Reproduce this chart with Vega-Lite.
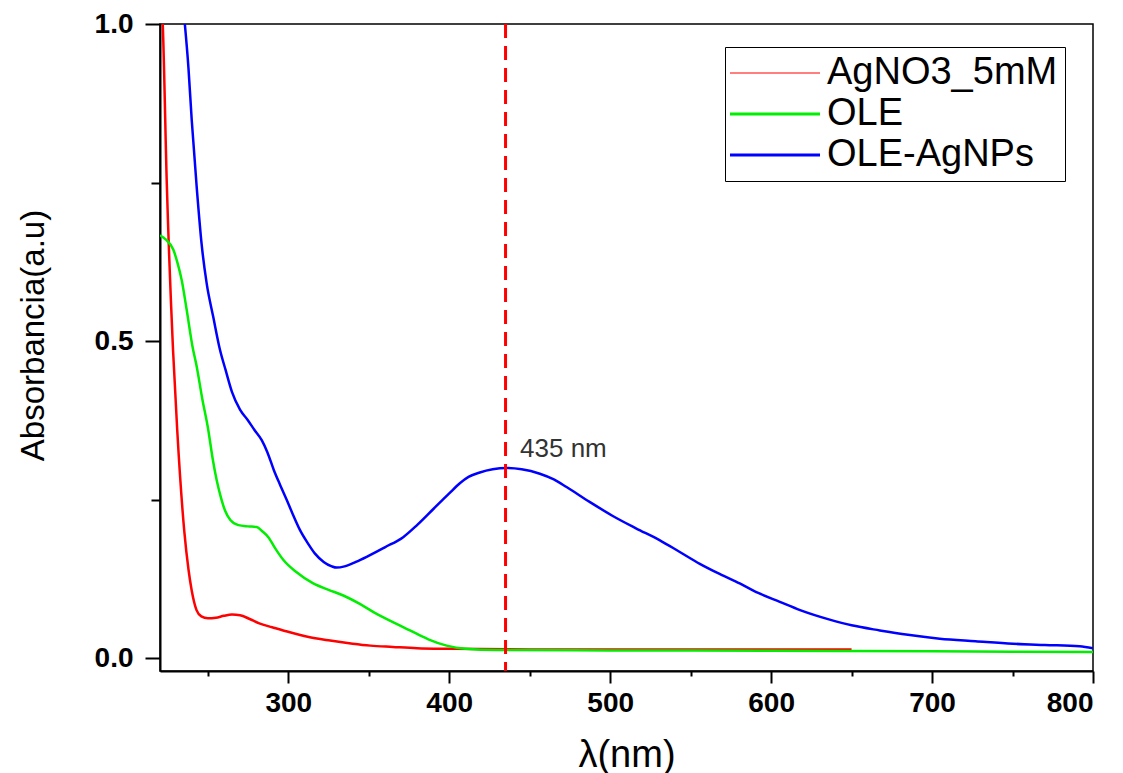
{
  "$schema": "https://vega.github.io/schema/vega-lite/v6.json",
  "width": 933,
  "height": 647,
  "autosize": {"type": "none"},
  "padding": {"left": 160, "top": 24, "right": 30, "bottom": 102},
  "background": "white",
  "config": {
    "view": {"stroke": "black", "strokeWidth": 1.5},
    "font": "Liberation Sans"
  },
  "datasets": {
    "spectra": [
      {"series": "AgNO3_5mM", "nm": 220.3, "abs": 1.06},
      {"series": "AgNO3_5mM", "nm": 222, "abs": 1.0},
      {"series": "AgNO3_5mM", "nm": 224.5, "abs": 0.75},
      {"series": "AgNO3_5mM", "nm": 228.4, "abs": 0.486},
      {"series": "AgNO3_5mM", "nm": 231, "abs": 0.36},
      {"series": "AgNO3_5mM", "nm": 235.4, "abs": 0.2},
      {"series": "AgNO3_5mM", "nm": 238, "abs": 0.14},
      {"series": "AgNO3_5mM", "nm": 240, "abs": 0.107},
      {"series": "AgNO3_5mM", "nm": 243, "abs": 0.076},
      {"series": "AgNO3_5mM", "nm": 246, "abs": 0.066},
      {"series": "AgNO3_5mM", "nm": 250, "abs": 0.063},
      {"series": "AgNO3_5mM", "nm": 255, "abs": 0.064},
      {"series": "AgNO3_5mM", "nm": 260, "abs": 0.067},
      {"series": "AgNO3_5mM", "nm": 265, "abs": 0.069},
      {"series": "AgNO3_5mM", "nm": 270, "abs": 0.068},
      {"series": "AgNO3_5mM", "nm": 276, "abs": 0.062},
      {"series": "AgNO3_5mM", "nm": 282, "abs": 0.055},
      {"series": "AgNO3_5mM", "nm": 290, "abs": 0.049},
      {"series": "AgNO3_5mM", "nm": 301, "abs": 0.041},
      {"series": "AgNO3_5mM", "nm": 312, "abs": 0.034},
      {"series": "AgNO3_5mM", "nm": 326, "abs": 0.028},
      {"series": "AgNO3_5mM", "nm": 340, "abs": 0.023},
      {"series": "AgNO3_5mM", "nm": 351, "abs": 0.02},
      {"series": "AgNO3_5mM", "nm": 365, "abs": 0.018},
      {"series": "AgNO3_5mM", "nm": 380, "abs": 0.016},
      {"series": "AgNO3_5mM", "nm": 400, "abs": 0.015},
      {"series": "AgNO3_5mM", "nm": 450, "abs": 0.014},
      {"series": "AgNO3_5mM", "nm": 500, "abs": 0.014},
      {"series": "AgNO3_5mM", "nm": 550, "abs": 0.014},
      {"series": "AgNO3_5mM", "nm": 600, "abs": 0.0137},
      {"series": "AgNO3_5mM", "nm": 650, "abs": 0.0137},
      {"series": "OLE", "nm": 220.3, "abs": 0.667},
      {"series": "OLE", "nm": 224, "abs": 0.66},
      {"series": "OLE", "nm": 228.6, "abs": 0.644},
      {"series": "OLE", "nm": 231, "abs": 0.625},
      {"series": "OLE", "nm": 233.8, "abs": 0.596},
      {"series": "OLE", "nm": 236.9, "abs": 0.549},
      {"series": "OLE", "nm": 240.6, "abs": 0.49},
      {"series": "OLE", "nm": 243.1, "abs": 0.46},
      {"series": "OLE", "nm": 246.5, "abs": 0.41},
      {"series": "OLE", "nm": 250.3, "abs": 0.36},
      {"series": "OLE", "nm": 253, "abs": 0.315},
      {"series": "OLE", "nm": 255.5, "abs": 0.281},
      {"series": "OLE", "nm": 258, "abs": 0.255},
      {"series": "OLE", "nm": 260.7, "abs": 0.233},
      {"series": "OLE", "nm": 264, "abs": 0.218},
      {"series": "OLE", "nm": 269, "abs": 0.21},
      {"series": "OLE", "nm": 275, "abs": 0.208},
      {"series": "OLE", "nm": 280.4, "abs": 0.207},
      {"series": "OLE", "nm": 284, "abs": 0.2},
      {"series": "OLE", "nm": 287.6, "abs": 0.191},
      {"series": "OLE", "nm": 292, "abs": 0.173},
      {"series": "OLE", "nm": 297, "abs": 0.155},
      {"series": "OLE", "nm": 305, "abs": 0.136},
      {"series": "OLE", "nm": 315.5, "abs": 0.118},
      {"series": "OLE", "nm": 325, "abs": 0.108},
      {"series": "OLE", "nm": 334.2, "abs": 0.099},
      {"series": "OLE", "nm": 345, "abs": 0.085},
      {"series": "OLE", "nm": 354.9, "abs": 0.07},
      {"series": "OLE", "nm": 365, "abs": 0.057},
      {"series": "OLE", "nm": 375.6, "abs": 0.044},
      {"series": "OLE", "nm": 387, "abs": 0.03},
      {"series": "OLE", "nm": 398.4, "abs": 0.02},
      {"series": "OLE", "nm": 410, "abs": 0.015},
      {"series": "OLE", "nm": 430, "abs": 0.013},
      {"series": "OLE", "nm": 500, "abs": 0.0125},
      {"series": "OLE", "nm": 600, "abs": 0.012},
      {"series": "OLE", "nm": 700, "abs": 0.011},
      {"series": "OLE", "nm": 800, "abs": 0.01},
      {"series": "OLE-AgNPs", "nm": 235, "abs": 1.02},
      {"series": "OLE-AgNPs", "nm": 238, "abs": 0.93},
      {"series": "OLE-AgNPs", "nm": 240, "abs": 0.849},
      {"series": "OLE-AgNPs", "nm": 243.1, "abs": 0.743},
      {"series": "OLE-AgNPs", "nm": 246.2, "abs": 0.652},
      {"series": "OLE-AgNPs", "nm": 249.3, "abs": 0.591},
      {"series": "OLE-AgNPs", "nm": 253.4, "abs": 0.538},
      {"series": "OLE-AgNPs", "nm": 257.6, "abs": 0.486},
      {"series": "OLE-AgNPs", "nm": 261, "abs": 0.455},
      {"series": "OLE-AgNPs", "nm": 265, "abs": 0.42},
      {"series": "OLE-AgNPs", "nm": 270, "abs": 0.392},
      {"series": "OLE-AgNPs", "nm": 275, "abs": 0.375},
      {"series": "OLE-AgNPs", "nm": 279, "abs": 0.36},
      {"series": "OLE-AgNPs", "nm": 283.5, "abs": 0.344},
      {"series": "OLE-AgNPs", "nm": 287, "abs": 0.325},
      {"series": "OLE-AgNPs", "nm": 291, "abs": 0.297},
      {"series": "OLE-AgNPs", "nm": 295, "abs": 0.273},
      {"series": "OLE-AgNPs", "nm": 299, "abs": 0.25},
      {"series": "OLE-AgNPs", "nm": 303, "abs": 0.226},
      {"series": "OLE-AgNPs", "nm": 307.3, "abs": 0.202},
      {"series": "OLE-AgNPs", "nm": 312, "abs": 0.182},
      {"series": "OLE-AgNPs", "nm": 316.6, "abs": 0.165},
      {"series": "OLE-AgNPs", "nm": 322, "abs": 0.152},
      {"series": "OLE-AgNPs", "nm": 327, "abs": 0.145},
      {"series": "OLE-AgNPs", "nm": 330, "abs": 0.143},
      {"series": "OLE-AgNPs", "nm": 335, "abs": 0.145},
      {"series": "OLE-AgNPs", "nm": 342, "abs": 0.152},
      {"series": "OLE-AgNPs", "nm": 348.7, "abs": 0.16},
      {"series": "OLE-AgNPs", "nm": 360, "abs": 0.175},
      {"series": "OLE-AgNPs", "nm": 371.4, "abs": 0.191},
      {"series": "OLE-AgNPs", "nm": 380, "abs": 0.21},
      {"series": "OLE-AgNPs", "nm": 390, "abs": 0.235},
      {"series": "OLE-AgNPs", "nm": 400, "abs": 0.26},
      {"series": "OLE-AgNPs", "nm": 406.6, "abs": 0.276},
      {"series": "OLE-AgNPs", "nm": 412, "abs": 0.286},
      {"series": "OLE-AgNPs", "nm": 419, "abs": 0.293},
      {"series": "OLE-AgNPs", "nm": 427, "abs": 0.298},
      {"series": "OLE-AgNPs", "nm": 435.6, "abs": 0.3},
      {"series": "OLE-AgNPs", "nm": 445, "abs": 0.298},
      {"series": "OLE-AgNPs", "nm": 456.3, "abs": 0.291},
      {"series": "OLE-AgNPs", "nm": 465, "abs": 0.282},
      {"series": "OLE-AgNPs", "nm": 472.9, "abs": 0.27},
      {"series": "OLE-AgNPs", "nm": 487, "abs": 0.247},
      {"series": "OLE-AgNPs", "nm": 501.9, "abs": 0.224},
      {"series": "OLE-AgNPs", "nm": 516, "abs": 0.205},
      {"series": "OLE-AgNPs", "nm": 530.9, "abs": 0.186},
      {"series": "OLE-AgNPs", "nm": 543, "abs": 0.168},
      {"series": "OLE-AgNPs", "nm": 555.7, "abs": 0.149},
      {"series": "OLE-AgNPs", "nm": 568, "abs": 0.133},
      {"series": "OLE-AgNPs", "nm": 580.5, "abs": 0.118},
      {"series": "OLE-AgNPs", "nm": 592, "abs": 0.103},
      {"series": "OLE-AgNPs", "nm": 605.4, "abs": 0.089},
      {"series": "OLE-AgNPs", "nm": 618, "abs": 0.076},
      {"series": "OLE-AgNPs", "nm": 636.4, "abs": 0.061},
      {"series": "OLE-AgNPs", "nm": 650, "abs": 0.052},
      {"series": "OLE-AgNPs", "nm": 667.5, "abs": 0.044},
      {"series": "OLE-AgNPs", "nm": 685, "abs": 0.037},
      {"series": "OLE-AgNPs", "nm": 704.8, "abs": 0.031},
      {"series": "OLE-AgNPs", "nm": 727, "abs": 0.027},
      {"series": "OLE-AgNPs", "nm": 750.3, "abs": 0.023},
      {"series": "OLE-AgNPs", "nm": 770, "abs": 0.021},
      {"series": "OLE-AgNPs", "nm": 791.7, "abs": 0.019},
      {"series": "OLE-AgNPs", "nm": 800, "abs": 0.016}
    ],
    "peak": [
      {"nm": 435, "labelnm": 444, "labely": 0.317, "label": "435 nm"}
    ]
  },
  "layer": [
    {
      "data": {"name": "spectra"},
      "mark": {"type": "line", "strokeWidth": 2.5, "clip": true, "interpolate": "monotone"},
      "encoding": {
        "x": {
          "field": "nm", "type": "quantitative",
          "scale": {"domain": [220.3, 800], "nice": false, "zero": false},
          "axis": {
            "title": "λ(nm)",
            "values": [250, 300, 350, 400, 450, 500, 550, 600, 650, 700, 750, 800],
            "labelExpr": "datum.value % 100 == 0 ? datum.label : ''",
            "format": "d",
            "grid": false,
            "domainColor": "black", "domainWidth": 2,
            "tickColor": "black", "tickWidth": 2,
            "tickSize": {"condition": {"test": "datum.value % 100 != 0", "value": 5}, "value": 12},
            "labelFont": "Liberation Sans", "labelFontSize": 28, "labelFontWeight": "bold",
            "labelColor": "black", "labelPadding": 6,
            "titleFont": "Liberation Sans", "titleFontSize": 38, "titleFontWeight": "normal",
            "titleColor": "black", "titleY": 95, "titleBaseline": "alphabetic"
          }
        },
        "y": {
          "field": "abs", "type": "quantitative",
          "scale": {"domain": [-0.02, 1.0], "nice": false, "zero": false},
          "axis": {
            "title": "Absorbancia(a.u)",
            "values": [0, 0.25, 0.5, 0.75, 1.0],
            "format": ".1f",
            "labelExpr": "datum.value == 0.25 || datum.value == 0.75 ? '' : datum.label",
            "grid": false,
            "domainColor": "black", "domainWidth": 2,
            "tickColor": "black", "tickWidth": 2,
            "tickSize": {"condition": {"test": "datum.value == 0.25 || datum.value == 0.75", "value": 9}, "value": 15},
            "labelFont": "Liberation Sans", "labelFontSize": 28, "labelFontWeight": "bold",
            "labelColor": "black", "labelPadding": 12,
            "titleFont": "Liberation Sans", "titleFontSize": 33, "titleFontWeight": "normal",
            "titleColor": "black", "titleX": -117, "titleY": 311, "titleBaseline": "alphabetic", "titleAngle": -90
          }
        },
        "color": {
          "field": "series", "type": "nominal",
          "scale": {"domain": ["AgNO3_5mM", "OLE", "OLE-AgNPs"], "range": ["#ff0000", "#00ee00", "#0000ff"]},
          "legend": {
            "title": null,
            "orient": "none",
            "legendX": 565,
            "legendY": 23,
            "strokeColor": "black",
            "fillColor": "white",
            "padding": 7,
            "symbolType": "stroke",
            "symbolSize": 8100,
            "symbolStrokeWidth": 2.5,
            "symbolOffset": 24,
            "labelFont": "Liberation Sans",
            "labelFontSize": 38,
            "labelColor": "black",
            "labelOffset": 33,
            "rowPadding": 3,
            "labelLimit": 400,
            "encode": {
              "symbols": {"update": {"strokeWidth": {"signal": "datum.value == 'AgNO3_5mM' ? 1.2 : 2.8"}}}
            }
          }
        }
      }
    },
    {
      "data": {"name": "peak"},
      "mark": {"type": "rule", "color": "#ff0000", "strokeWidth": 3, "strokeDash": [14, 8]},
      "encoding": {
        "x": {"field": "nm", "type": "quantitative"}
      }
    },
    {
      "data": {"name": "peak"},
      "mark": {"type": "text", "align": "left", "baseline": "alphabetic", "font": "Liberation Sans", "fontSize": 26, "color": "#333333"},
      "encoding": {
        "x": {"field": "labelnm", "type": "quantitative"},
        "y": {"field": "labely", "type": "quantitative"},
        "text": {"field": "label"}
      }
    }
  ]
}
